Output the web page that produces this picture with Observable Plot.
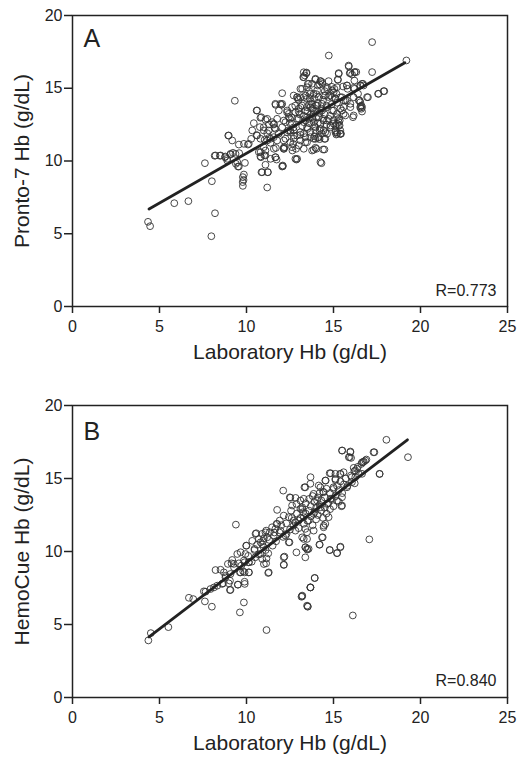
<!DOCTYPE html>
<html>
<head>
<meta charset="utf-8">
<script src="https://cdn.jsdelivr.net/npm/d3@7"></script>
<script src="https://cdn.jsdelivr.net/npm/@observablehq/plot@0.6"></script>
<style>
  body { margin: 0; background: #fff; }
  #chart svg { display: block; overflow: visible; }
</style>
</head>
<body>
<div id="chart"></div>
<script>
// ---- Data ----
const xTicks = [0, 5, 10, 15, 20, 25];
const yTicks = [0, 5, 10, 15, 20];
const xTitle = "Laboratory Hb (g/dL)";
const yTitleA = "Pronto-7 Hb (g/dL)";
const yTitleB = "HemoCue Hb (g/dL)";
const panelLabels = ["A", "B"];
const rLabels = ["R=0.773", "R=0.840"];

// Panel A: [Laboratory Hb, Pronto-7 Hb]
const pointsA = [
  [4.34,5.82],[4.46,5.52],[5.85,7.10],[6.66,7.24],[7.98,4.83],[8.19,6.41],[8.01,8.61],[7.61,9.85],
  [8.17,10.36],[8.47,10.36],[8.76,10.26],[8.95,11.75],[9.33,14.14],[9.18,11.41],[8.89,10.03],[9.09,10.45],
  [9.22,10.56],[9.39,9.81],[9.51,9.62],[9.58,10.54],[9.56,11.13],[9.91,9.87],[9.85,11.18],[10.08,11.13],
  [10.27,11.52],[10.42,12.60],[10.58,13.47],[10.58,11.78],[10.77,12.33],[10.85,13.01],[11.09,12.83],
  [9.79,8.89],[9.85,9.07],[9.78,8.55],[9.79,8.29],[9.83,8.70],[10.86,9.23],[11.23,9.23],[11.09,9.74],
  [11.19,8.18],[10.81,10.61],[10.83,10.26],[11.02,10.40],[11.09,10.72],[11.04,11.45],[11.19,11.91],
  [11.30,11.59],[11.38,11.25],[11.57,12.51],[11.61,12.28],[11.67,13.86],[11.69,10.90],[11.67,10.26],
  [11.73,10.10],[12.05,14.66],[12.01,13.86],[12.09,9.64],[12.18,10.95],[12.15,10.84],[12.24,12.67],
  [12.34,13.47],[12.43,13.24],[12.49,12.90],[12.53,11.98],[12.72,11.75],[12.68,11.18],[12.64,10.72],
  [12.87,10.10],[12.85,10.84],[12.91,14.39],[12.95,14.27],[13.01,13.59],[13.06,13.20],[13.20,14.96],
  [13.26,15.76],[13.45,16.08],[13.52,15.30],[13.64,14.27],[13.77,13.93],[13.87,13.47],[13.96,15.60],
  [14.10,15.19],[14.25,15.49],[14.36,15.30],[14.40,10.79],[14.48,10.79],[14.31,9.85],[14.48,11.52],
  [14.10,11.59],[13.96,11.52],[14.73,17.25],[15.30,16.04],[15.24,15.60],[15.05,14.96],[15.17,14.62],
  [15.11,11.98],[15.21,11.87],[15.40,11.87],[15.30,12.44],[15.36,12.78],[15.88,16.49],[15.93,16.04],
  [16.07,15.94],[16.22,16.11],[16.31,16.11],[16.12,13.01],[16.20,14.96],[16.55,15.19],[16.70,15.30],
  [16.45,14.16],[16.55,13.75],[16.64,13.40],[16.60,13.59],[16.93,14.39],[17.22,18.17],[17.22,16.11],
  [17.56,14.62],[17.92,14.80],[19.19,16.91],[16.20,15.53],[15.77,15.19],[15.58,14.16],
  [13.35,15.88],[14.34,15.42],[14.21,15.26],[14.72,15.49],[14.63,15.07],[14.92,14.85],[15.20,15.07],
  [15.55,15.12],[15.81,14.96],[16.16,15.03],[16.54,15.19],[16.41,14.62],[16.54,14.04],[16.64,13.70],
  [15.97,13.70],[16.16,13.13],[13.48,15.07],[13.77,15.31],[13.10,14.96],[12.71,14.50],[13.10,14.38],
  [13.48,14.27],[13.86,14.62],[14.15,14.38],[14.43,14.50],[14.82,14.50],[15.11,14.27],[15.49,14.38],
  [15.68,14.16],[11.66,13.93],[12.05,13.93],[11.86,13.47],[12.33,13.35],[12.62,13.70],[12.81,13.35],
  [13.20,13.81],[13.38,13.47],[13.67,13.70],[13.86,13.24],[14.06,13.81],[14.34,13.47],[14.63,13.70],
  [14.92,13.47],[15.20,13.24],[15.49,13.47],[15.68,13.13],[11.19,12.90],[11.47,12.67],[11.76,12.90],
  [12.14,12.78],[12.43,13.01],[12.62,12.56],[13.00,12.90],[13.29,12.67],[13.58,12.90],[13.86,12.67],
  [14.15,13.01],[14.43,12.78],[14.72,12.90],[15.01,12.56],[15.30,12.67],[15.39,12.10],[15.20,11.98],
  [15.39,11.87],[10.99,12.32],[11.28,12.10],[11.66,12.21],[12.05,12.32],[12.33,11.98],[12.71,12.10],
  [12.91,11.75],[13.10,11.98],[13.38,11.64],[13.67,11.98],[13.96,12.32],[14.25,12.21],[14.53,11.98],
  [14.82,12.32],[15.11,12.44],[11.38,11.53],[11.76,11.41],[12.14,11.41],[12.52,11.29],[12.71,11.53],
  [13.10,11.41],[13.48,11.29],[13.86,11.53],[14.34,11.87],[14.63,11.87],[10.99,10.95],[11.57,10.84],
  [12.14,10.91],[12.62,10.95],[13.00,11.07],[13.29,10.84],[13.86,10.77],[13.96,10.91],[11.09,10.38],
  [11.66,10.26],[12.81,10.15],[14.25,9.92],[12.05,9.62],
  [11.95,13.93],[10.61,13.47],[10.80,12.97],[11.28,12.51],[11.57,12.56],[10.33,12.10],[10.61,11.75],
  [10.99,12.10],[8.98,11.75],[10.13,11.18],[10.80,11.53],[11.19,11.41],[11.57,11.64],[11.85,11.87],
  [12.24,11.53],[12.52,12.10],[8.22,10.38],[8.51,10.38],[8.79,10.31],[9.08,10.49],[9.37,10.49],
  [8.89,10.15],[9.47,9.92],[9.56,9.62],[10.71,10.61],[10.80,10.31],[11.38,10.15],[10.90,9.23],
  [11.22,9.23],[12.08,9.69],[13.29,16.10],[13.44,16.03],[12.91,14.38],[13.10,13.70],[13.48,13.01],
  [13.77,10.72],[12.91,10.15],[12.14,10.84],
  [15.87,16.56],[15.97,16.04],[16.21,16.10],[15.30,15.99],[13.29,15.76],[13.96,15.65],[14.25,15.49],
  [13.58,15.31],[15.26,15.58],[15.78,15.19],[16.64,15.31],[16.73,15.19],[17.88,14.80],[17.59,14.62],
  [16.98,14.38],[16.50,14.16],[16.60,13.81],[16.54,13.66],[15.58,13.24],[15.20,12.56],[15.35,12.44],
  [15.11,12.10],[15.43,11.87],[15.16,11.82],[14.53,11.53],[14.15,11.64],[14.02,10.84],[15.01,14.73],
  [14.92,14.38],[14.53,14.50],[15.39,14.38],[15.78,14.16],[15.97,13.93],[16.16,14.38],[15.58,13.70],
  [15.01,13.47],[15.20,13.01],[14.63,12.78],[14.82,12.44],[14.25,12.56],[14.43,12.10],[13.96,12.10],
  [13.67,11.64],[13.38,11.29],[13.48,12.32],[13.77,13.01],[14.06,13.47],[14.34,13.93],[13.48,13.70],
  [13.29,14.38],[13.67,14.62],[14.06,14.85],[14.63,14.96],
  [13.2,12.4],[13.3,13.1],[13.4,12.8],[13.5,13.4],[13.5,12.2],[13.6,13.9],[13.6,12.6],[13.7,13.2],
  [13.7,14.1],[13.8,12.9],[13.8,13.6],[13.9,12.4],[13.9,14.3],[14.0,13.0],[14.0,13.8],[14.1,12.6],
  [14.1,14.0],[14.2,13.3],[14.2,12.1],[14.3,13.6],[14.4,12.9],[14.4,14.2],[14.5,13.2],[14.6,13.8],
  [14.6,12.5],[14.7,14.4],[14.8,13.1],[14.9,13.9],[15.0,12.8],[15.1,14.3],[13.0,13.4],[12.9,12.9],
  [12.8,13.8],[12.7,12.3],[13.1,11.8],[13.3,11.9],[13.9,11.7],[14.2,11.5],[12.6,13.0],[12.4,12.1],
  [13.4,14.5],[13.6,14.8],[14.0,14.6],[14.5,14.8],[14.9,15.1],[15.2,14.0],[15.4,13.6],[15.3,12.9],
  [13.0,14.2],[12.5,12.6]
];

// Panel B: [Laboratory Hb, HemoCue Hb]
const pointsB = [
  [4.36,3.91],[4.50,4.41],[5.51,4.82],[6.69,6.83],[6.94,6.74],[7.61,6.58],[8.01,6.22],[7.65,7.25],
  [7.93,7.43],[8.13,7.54],[8.22,8.73],[8.51,8.75],[8.65,7.82],[8.80,8.34],[9.05,7.36],[9.05,8.00],
  [9.14,9.19],[9.28,8.91],[9.39,11.84],[9.51,7.73],[9.62,5.83],[9.85,6.51],[9.89,7.93],[9.62,8.57],
  [9.81,8.64],[10.14,8.57],[9.98,10.40],[9.94,9.83],[9.89,9.26],[9.56,9.19],[9.70,9.03],[10.14,9.26],
  [10.46,10.10],[10.56,11.25],[10.81,10.63],[10.90,9.49],[11.00,9.14],[11.13,9.19],[11.25,8.53],
  [11.15,4.62],[11.09,11.31],[11.25,9.87],[11.73,11.89],[11.76,12.85],[12.11,14.17],[12.18,9.65],
  [12.15,9.10],[12.47,10.63],[12.49,13.71],[12.82,13.67],[12.87,9.94],[13.16,6.90],[13.33,14.40],
  [13.39,10.29],[13.49,10.13],[13.52,6.22],[13.68,7.54],[13.68,15.09],[13.92,8.18],[14.19,10.47],
  [14.38,10.97],[14.44,11.77],[14.79,10.10],[15.21,9.90],[15.40,10.33],[15.46,13.10],[15.50,16.91],
  [15.97,16.85],[15.88,16.46],[16.01,16.41],[16.11,5.62],[16.64,16.11],[16.74,16.16],[16.89,16.30],
  [17.35,16.80],[17.06,10.83],[17.65,15.31],[18.04,17.65],[19.28,16.46],[14.84,15.36],[14.55,14.86],
  [15.11,14.90],[15.40,15.31],[16.16,15.73],[16.35,15.66],[16.05,15.09],[16.22,14.67],
  [8.60,7.78],[8.70,8.57],[8.93,9.15],[9.18,9.42],[9.47,9.83],[9.66,9.95],[10.33,10.73],[10.61,10.46],
  [11.19,10.97],[11.47,11.66],[11.91,12.12],[12.14,12.46],[12.29,11.93],[12.56,12.80],[12.87,13.26],
  [13.10,13.49],[13.25,12.69],[12.71,11.78],[10.90,11.21],
  [7.55,7.27],[8.32,7.66],[8.79,8.23],[9.08,8.46],[8.98,7.82],[9.08,7.37],[9.50,7.73],[9.90,7.78],
  [9.27,9.15],[9.66,8.57],[9.89,8.57],[10.13,8.57],[10.13,9.26],[9.85,9.38],[10.00,10.40],[10.46,10.18],
  [10.52,11.21],[10.71,10.86],[10.96,10.73],[10.99,10.29],[10.80,9.83],[11.15,9.53],[11.28,8.57],
  [11.13,11.43],[11.34,11.32],[11.57,11.09],[11.66,11.55],[11.76,11.89],[11.95,11.43],[12.14,9.60],
  [12.14,9.08],[12.24,11.09],[12.52,13.68],[12.62,13.15],[12.43,12.35],[12.71,12.12],[12.43,10.63],
  [13.20,6.98],[13.48,6.29],[13.67,7.54],[13.38,9.60],[13.57,10.18],[13.38,14.40],[13.29,13.61],
  [13.10,12.92],[13.00,12.12],[13.38,11.55],[13.48,10.86],[13.20,10.97],[12.81,11.43],
  [15.49,16.92],[15.97,16.80],[15.93,16.46],[17.30,16.80],[16.70,16.12],[16.83,16.23],[17.65,15.32],
  [14.78,15.36],[13.67,14.64],[14.15,14.52],[14.53,14.86],[15.11,14.98],[15.39,15.32],[15.58,15.43],
  [16.25,15.55],[16.45,15.32],[16.25,15.09],[16.64,15.32],[16.06,14.75],[15.49,13.72],[15.49,13.15],
  [15.20,13.49],[14.82,13.61],[14.63,13.26],[14.72,12.35],[14.53,11.89],[14.43,11.66],[14.34,10.97],
  [13.86,11.43],[13.48,11.32],[13.29,10.86],[13.38,10.29],[13.48,10.18],[14.21,10.47],[14.78,10.10],
  [15.20,9.88],[15.39,10.29],[13.92,8.19],[13.67,7.54],[13.20,6.93],[13.52,6.24],[14.06,13.49],
  [14.25,13.03],[13.86,12.58],[13.57,12.12],[13.29,12.35],[13.20,13.03],[13.86,13.95],[14.43,14.06],
  [15.01,14.29],[15.78,14.40],[14.25,14.40],[15.11,15.32],
  [12.8,12.0],[12.9,12.6],[13.0,11.6],[13.1,12.3],[13.2,12.9],[13.3,11.9],[13.4,12.6],[13.4,13.3],
  [13.5,12.1],[13.6,12.8],[13.6,13.6],[13.7,12.4],[13.7,13.1],[13.8,13.8],[13.8,11.8],[13.9,12.7],
  [13.9,13.4],[14.0,12.2],[14.0,13.0],[14.1,13.7],[14.1,12.5],[14.2,13.2],[14.2,14.0],[14.3,12.8],
  [14.3,13.5],[14.4,12.3],[14.4,14.1],[14.5,13.0],[14.5,13.7],[14.6,12.6],[14.6,14.3],[14.7,13.3],
  [14.8,14.0],[14.8,12.9],[14.9,13.6],[15.0,14.4],[15.0,13.1],[15.1,13.8],[15.2,14.5],[15.3,13.4],
  [15.3,14.2],[15.4,14.8],[15.5,14.0],[15.6,14.6],[15.7,15.0],[15.8,14.5],[16.0,15.2],[16.2,15.5],
  [16.4,15.8],[16.6,16.0],[12.5,11.5],[12.3,11.2],[12.1,11.0],[11.9,11.3],[11.7,10.7],[11.5,10.4],
  [11.3,10.8],[11.1,10.1],[10.9,10.5],[10.7,9.8],[10.5,9.6],[12.0,11.8],[12.6,12.3],[11.6,11.3],
  [11.0,10.9],[10.3,9.3],[10.1,9.7]
];

// Regression line endpoints as drawn in the reference
const fitAx = [4.4, 19.1], fitAy = [6.7, 16.75];
const fitBx = [4.4, 19.25], fitBy = [4.15, 17.65];

// ---- Drawing ----
const FONT = "'Liberation Sans', Arial, Helvetica, sans-serif";
const INK = "#222";

function panel({points, fitX, fitY, yTitle, label, rText, marginTop, marginBottom, labelDy, rDy}) {
  const data = points.map(([x, y]) => ({x, y}));
  const fit = fitX.map((x, i) => ({x, y: fitY[i]}));
  return Plot.plot({
    width: 517,
    height: 380,
    marginLeft: 72,
    marginRight: 10,
    marginTop,
    marginBottom,
    style: {fontFamily: FONT, color: INK, background: "#fff", overflow: "visible"},
    x: {domain: [0, 25]},
    y: {domain: [0, 20]},
    marks: [
      Plot.axisX({ticks: xTicks, tickSize: 7, tickPadding: 7, fontSize: 16, label: null, stroke: INK, strokeWidth: 1.5, color: INK}),
      Plot.axisY({ticks: yTicks, tickSize: 8, tickPadding: 2, fontSize: 16, label: null, stroke: INK, strokeWidth: 1.5, color: INK}),
      Plot.dot(data, {x: "x", y: "y", r: 3.4, stroke: "#333", strokeWidth: 0.9, fill: "none"}),
      Plot.line(fit, {x: "x", y: "y", stroke: INK, strokeWidth: 2.8}),
      Plot.frame({stroke: INK, strokeWidth: 1.5}),
      Plot.text([label], {frameAnchor: "top-left", dx: 11, dy: labelDy, textAnchor: "start", lineAnchor: "middle", fontSize: 25, fill: INK}),
      Plot.text([rText], {frameAnchor: "bottom-right", dx: -11, dy: rDy, textAnchor: "end", lineAnchor: "middle", fontSize: 16, fill: INK}),
      Plot.text([xTitle], {frameAnchor: "bottom", dy: 52, textAnchor: "middle", fontSize: 21, fill: INK}),
      Plot.text([yTitle], {frameAnchor: "left", dx: -50, rotate: -90, textAnchor: "middle", lineAnchor: "middle", fontSize: 21, fill: INK})
    ]
  });
}

const root = document.getElementById("chart");
root.appendChild(panel({points: pointsA, fitX: fitAx, fitY: fitAy, yTitle: yTitleA, label: panelLabels[0], rText: rLabels[0], marginTop: 15, marginBottom: 74, labelDy: 23, rDy: -16}));
root.appendChild(panel({points: pointsB, fitX: fitBx, fitY: fitBy, yTitle: yTitleB, label: panelLabels[1], rText: rLabels[1], marginTop: 25, marginBottom: 63, labelDy: 26, rDy: -17}));
</script>
</body>
</html>
